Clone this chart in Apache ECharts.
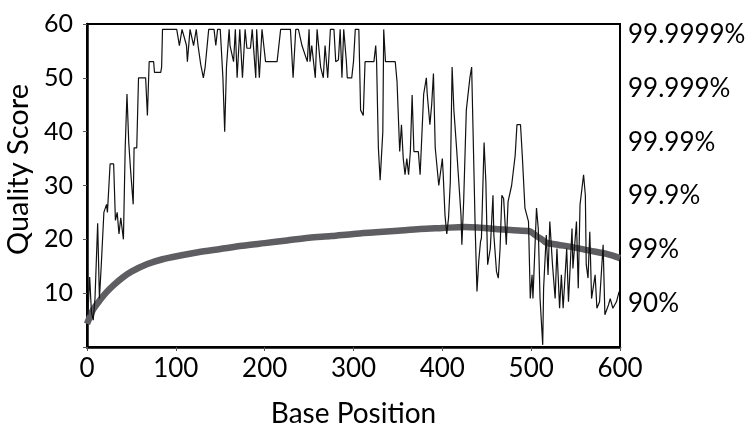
<!DOCTYPE html>
<html><head><meta charset="utf-8">
<script src="https://cdn.jsdelivr.net/npm/echarts@6/dist/echarts.min.js"></script>
<style>html,body{margin:0;padding:0;background:#fff}#c{width:752px;height:428px}</style>
</head><body><div id="c"></div>
<script>
const qualityPos = [0,1,3,5,7,9,12,14,16,19,20,22,23,26,30,32,34,36,38,41,43,45,47,49,52,53,56,58,66,68,70,75,76,83,84,85,101,104,107,109,112,113,116,120,123,125,128,131,133,137,143,145,147,150,153,155,157,160,161,165,167,169,172,175,176,178,180,184,186,190,191,194,197,199,201,214,218,229,232,235,238,242,248,250,251,253,257,259,263,266,268,271,274,278,280,283,285,287,289,291,292,293,298,300,302,306,308,311,313,323,325,326,328,330,332,333,334,336,347,349,352,354,356,358,360,362,364,366,368,373,375,377,379,382,383,386,388,390,392,394,396,398,400,401,403,405,407,409,411,413,415,416,418,421,422,424,427,429,431,433,435,437,439,441,443,444,447,449,451,454,457,458,461,463,465,467,469,472,474,478,482,484,488,490,493,497,499,501,502,506,508,510,513,514,517,519,521,524,527,529,532,534,536,540,542,546,547,551,553,555,559,561,562,564,566,568,572,574,577,581,583,587,589,592,596,599];
const qualityVal = [7,6,13,6.5,5,9,23,9,15,25,25,26.5,25,34,34,23.5,25,21,24,20,37,47,38,33,26.5,37,37,50,50,43,53,53,51,51,52,59,59,56,59,59,56,53,59,56,59,56,52.5,50,52,59,59,56,59,59,50,40,52,59,56,53,59,50,59,50,53,59,55.5,55.5,59,50,59,50,59,56,53,53,59,59,50,59,59,56,53,59,53,56,50,59,52,50,56,50,59,59,53,53.3,59,50,59,59,53,50,50,53,59,59,44,43,53,53,56,53,37,31,31,40,59,53,53,49.3,36.3,41.3,35,32,35,32,36.3,46.8,36.3,36.3,32,32,47,50,47,41.3,45,50.8,37,37,30,30,35,32,24.5,21,24,30.7,52,44,44,37,32,24.5,19,27,44,44,50,52,52,22,10.3,16,19.6,20.2,38,30.7,15.3,18.3,28.2,20.8,14,12.8,18.3,28.2,27.6,19,27,30,35.6,41.3,41.3,35.6,25.8,23.3,9,13.4,9,25.8,22,9,0.4,10.9,20.8,13.4,23.3,15.3,9,18.3,7.2,13.4,7.2,18.3,8.4,22,14.6,23.3,10.9,26.4,32,28.2,15.3,12.8,21.4,9,13.4,7.2,8.4,19,6,7.8,9,7.2,8.4,10.3];
const meanPos = [0,3,7,15,22,30,40,50,68,85,105,125,150,175,200,225,250,275,300,325,350,375,400,425,440,460,480,498,503,507,512,517,530,545,566,585,600];
const meanVal = [4.3,5.5,7,8.8,10.2,11.5,12.9,14,15.4,16.3,17,17.6,18.2,18.8,19.3,19.8,20.3,20.6,21,21.3,21.6,21.9,22.1,22.3,22.2,21.9,21.7,21.5,21,20.5,20,19.4,19,18.6,17.9,17.3,16.5];
const rightTickValues = [10,20,30,40,50,60];
const rightTickLabels = ['90%','99%','99.9%','99.99%','99.999%','99.9999%'];

const FONT = 'Lato';
const chart = echarts.init(document.getElementById('c'), null, {renderer:'canvas'});
chart.setOption({
  animation:false,
  backgroundColor:'#fff',
  grid:{left:87,right:132,top:24,bottom:81,show:true,borderColor:'#000',borderWidth:2,backgroundColor:'transparent',
        containLabel:false,outerBoundsMode:'none'},
  xAxis:{type:'value',min:0,max:600,interval:100,
    name:'Base Position',nameLocation:'middle',nameGap:53,
    nameTextStyle:{fontFamily:FONT,fontSize:28,color:'#000'},
    axisLine:{show:true,lineStyle:{color:'#000',width:2.5}},
    axisTick:{show:true,length:4,lineStyle:{color:'#555',width:1}},
    axisLabel:{fontFamily:FONT,fontSize:26,color:'#000',margin:9},
    splitLine:{show:false}},
  yAxis:[
    {type:'value',min:0,max:60,interval:10,position:'left',
     name:'Quality Score',nameLocation:'middle',nameGap:44,nameRotate:90,
     nameTextStyle:{fontFamily:FONT,fontSize:29,color:'#000',padding:[0,0,0,32]},
     axisLine:{show:true,lineStyle:{color:'#000',width:2.5}},
     axisTick:{show:true,length:4,lineStyle:{color:'#555',width:1}},
     axisLabel:{fontFamily:FONT,fontSize:25,color:'#000',margin:14,
       formatter:v=>v===0?'':String(v)},
     splitLine:{show:false}},
    {type:'value',min:0,max:60,interval:10,position:'right',
     axisLine:{show:true,lineStyle:{color:'#000',width:2}},
     axisTick:{show:false},
     axisLabel:{fontFamily:FONT,fontSize:26,color:'#000',margin:8,verticalAlign:'top',lineHeight:21,
       formatter:v=>{const i=rightTickValues.indexOf(v);return i<0?'':rightTickLabels[i];}},
     splitLine:{show:false}}
  ],
  series:[
    {type:'line',yAxisIndex:0,data:meanPos.map((p,i)=>[p,meanVal[i]]),showSymbol:false,symbol:'none',smooth:0.3,
     lineStyle:{color:'#5e5e62',width:6.5},z:2},
    {type:'line',yAxisIndex:0,data:qualityPos.map((p,i)=>[p,qualityVal[i]]),showSymbol:false,symbol:'none',
     lineStyle:{color:'#111',width:1.2},z:3}
  ]
});
</script></body></html>
